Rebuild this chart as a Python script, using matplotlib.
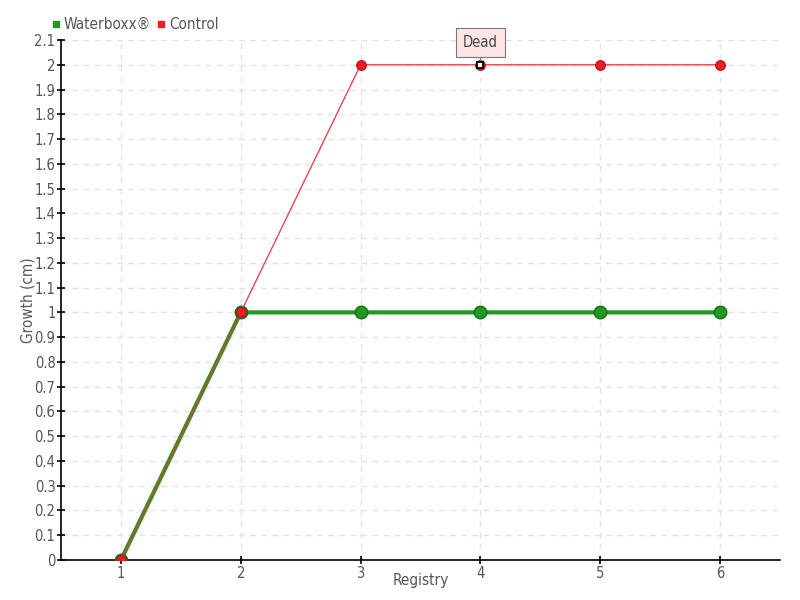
import matplotlib
matplotlib.use("Agg")
import matplotlib.pyplot as plt
from matplotlib.ticker import MultipleLocator, FuncFormatter
from matplotlib.lines import Line2D

registry = [1, 2, 3, 4, 5, 6]
waterboxx = [0, 1, 1, 1, 1, 1]
control = [0, 1, 2, 2, 2, 2]
dead_index = 3
dead_label = "Dead"
series_names = ["Waterboxx®", "Control"]

plt.rcParams['font.family'] = ['DejaVu Sans']
plt.rcParams['font.stretch'] = 'condensed'
txt = '#555555'

fig = plt.figure(figsize=(8, 6), dpi=100)
ax = fig.add_axes([61/800, 40/600, (780-61)/800, (560-40)/600])

ax.plot(registry, waterboxx, color='#1f9a1f', lw=3, marker='o', ms=9,
        mfc='#1f9a1f', mec='#157015', mew=1, zorder=3)
ax.plot(registry, control, color='#ee3340', lw=0.9, marker='o', ms=7,
        mfc='#ee1c25', mec='#b01018', mew=0.8, zorder=4)
# dead marker
ax.plot([registry[dead_index]], [control[dead_index]], marker='s', ms=5,
        mfc='white', mec='black', mew=1.3, ls='none', zorder=6)
ax.annotate(dead_label, xy=(registry[dead_index], control[dead_index]),
            xytext=(0, 16), textcoords='offset points', ha='center', va='center',
            fontsize=10.5, color='#444444',
            bbox=dict(boxstyle='square,pad=0.5', fc='#fde6e6', ec='#777777', lw=0.8),
            arrowprops=dict(arrowstyle='-', color='#777777', lw=0.8,
                            shrinkA=0, shrinkB=3), zorder=7)

ax.set_xlim(0.5, 6.5)
ax.set_ylim(0, 2.1)
ax.yaxis.set_major_locator(MultipleLocator(0.1))
ax.xaxis.set_major_locator(MultipleLocator(1))
ax.yaxis.set_major_formatter(FuncFormatter(lambda v, p: f"{v:.1f}".rstrip('0').rstrip('.')))
ax.grid(True, color='#e2e2e2', ls=(0, (4, 4)), lw=1)
ax.set_axisbelow(True)
for s in ['top', 'right']:
    ax.spines[s].set_visible(False)
for s in ['left', 'bottom']:
    ax.spines[s].set_linewidth(1.2)
ax.tick_params(direction='inout', length=6, width=1.2, labelsize=10.5, labelcolor=txt, pad=1)
ax.set_xlabel("Registry", fontsize=11, color=txt, va='center')
ax.set_ylabel("Growth (cm)", fontsize=11, color=txt, va='center')
ax.xaxis.set_label_coords(0.5, -20/520)
ax.yaxis.set_label_coords(-33/719, 0.5)

handles = [Line2D([], [], marker='s', color='none', mfc='#1f9a1f', mec='#1f9a1f', ms=5),
           Line2D([], [], marker='s', color='none', mfc='#ee1c25', mec='#ee1c25', ms=5)]
leg = fig.legend(handles, series_names, loc='upper left', bbox_to_anchor=(45/800, 1 - 11/600),
                 ncol=2, frameon=False, fontsize=11, handlelength=0.6, handletextpad=0.2,
                 columnspacing=0.4, borderaxespad=0)
for t in leg.get_texts():
    t.set_color(txt)

fig.savefig("out.png", dpi=100)
